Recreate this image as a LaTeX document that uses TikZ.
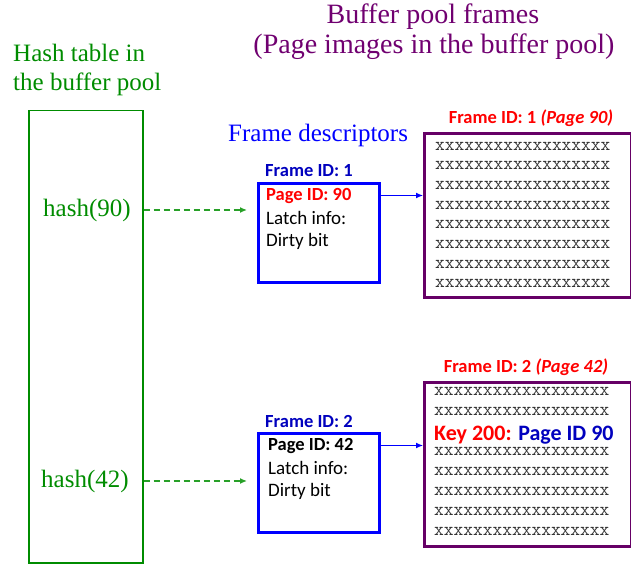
\documentclass[tikz,border=0pt]{standalone}
\usepackage{fontspec}
\setmainfont{Liberation Serif}
\setsansfont{Carlito}
\usetikzlibrary{arrows.meta,positioning}
\definecolor{hashgreen}{RGB}{0,140,0}
\definecolor{dashgreen}{RGB}{40,160,40}
\definecolor{poolpurple}{RGB}{112,0,112}
\definecolor{framepurple}{RGB}{102,0,102}
\definecolor{descblue}{RGB}{0,0,255}
\definecolor{idblue}{RGB}{0,0,190}
\definecolor{pagered}{RGB}{255,0,0}
\definecolor{xgray}{RGB}{50,50,50}
\newcommand{\xxrow}{xxxxxxxxxxxxxxxxxx}
\begin{document}
\begin{tikzpicture}[x=1pt,y=-1pt,
    serif/.style={font=\fontsize{25}{29}\selectfont, inner sep=0pt},
    sans/.style={font=\sffamily\fontsize{19}{23}\selectfont, inner sep=0pt, anchor=base west},
    label/.style={font=\sffamily\bfseries\fontsize{18.5}{22}\selectfont, inner sep=0pt},
    xrow/.style={font=\ttfamily\fontsize{18.9}{22}\selectfont, text=xgray, inner sep=0pt, anchor=base west},
    descbox/.style={draw=descblue, line width=2.6pt, minimum width=121pt, minimum height=99pt, anchor=north west},
    framebox/.style={draw=framepurple, line width=2.6pt, minimum width=207pt, minimum height=164pt, anchor=north west},
    hasharrow/.style={draw=dashgreen, line width=1.3pt, dash pattern=on 6pt off 4pt, -{Latex[length=7pt,width=6pt]}},
    ptr/.style={draw=descblue, line width=1.2pt, -{Latex[length=7pt,width=6pt]}}]
    \useasboundingbox (0,0) rectangle (631,564);

    %% Titles
    \node[serif, font=\fontsize{28}{32}\selectfont, text=poolpurple, anchor=base] (title1) at (433,24) {Buffer pool frames};
    \node[serif, font=\fontsize{28}{32}\selectfont, text=poolpurple, anchor=base] (title2) at (434,54) {(Page images in the buffer pool)};
    \node[serif, text=hashgreen, anchor=base west] (hashtitle1) at (13,62) {Hash table in};
    \node[serif, text=hashgreen, anchor=base west] (hashtitle2) at (13,91) {the buffer pool};
    \node[serif, text=descblue, anchor=base west] (desctitle) at (228,142) {Frame descriptors};

    %% Hash table
    \node[draw=hashgreen, line width=1.5pt, minimum width=114pt, minimum height=452pt, anchor=north west] (table) at (28,110) {};
    \node[serif, text=hashgreen, anchor=base west] (hash90) at (43,216) {hash(90)};
    \node[serif, text=hashgreen, anchor=base west] (hash42) at (41,487) {hash(42)};

    %% Frame descriptors
    \node[descbox] (desc1) at (257,182) {};
    \node[label, text=idblue, anchor=base west] (fid1) at (265,176) {Frame ID: 1};
    \node[label, anchor=base west, text=pagered] (pid1) at (266,200) {Page ID: 90};
    \node[sans] (latch1) at (266,224) {Latch info:};
    \node[sans] (dirty1) at (266,246) {Dirty bit};

    \node[descbox] (desc2) at (257,432) {};
    \node[label, text=idblue, anchor=base west] (fid2) at (265,427) {Frame ID: 2};
    \node[label, anchor=base west] (pid2) at (268,450) {Page ID: 42};
    \node[sans] (latch2) at (268,474) {Latch info:};
    \node[sans] (dirty2) at (268,496) {Dirty bit};

    %% Buffer pool frames
    \node[framebox] (frame1) at (423,132) {};
    \node[label, text=pagered, anchor=base] (flabel1) at (531,124) {Frame ID: 1 \textit{(Page 90)}};
    \foreach \i in {0,...,7}
        \node[xrow] at (435,150+19.7*\i) {\xxrow};

    \node[framebox] (frame2) at (423,381) {};
    \node[label, text=pagered, anchor=base] (flabel2) at (526,372) {Frame ID: 2 \textit{(Page 42)}};
    \foreach \i in {0,1,3,4,5,6,7}
        \node[xrow] at (434,395+20.1*\i) {\xxrow};
    \node[sans, font=\sffamily\bfseries\fontsize{22}{26}\selectfont] (key) at (434,440)
        {\textcolor{pagered}{Key 200:} \textcolor{idblue}{Page ID 90}};

    %% Pointers
    \draw[hasharrow] (table.east |- hash90) -- ([xshift=-10pt]desc1.west |- hash90);
    \draw[hasharrow] (table.east |- hash42) -- ([xshift=-10pt]desc2.west |- hash42);
    \draw[ptr] (desc1.east |- pid1) -- (frame1.west |- pid1);
    \draw[ptr] (desc2.east |- pid2) -- (frame2.west |- pid2);
\end{tikzpicture}
\end{document}
